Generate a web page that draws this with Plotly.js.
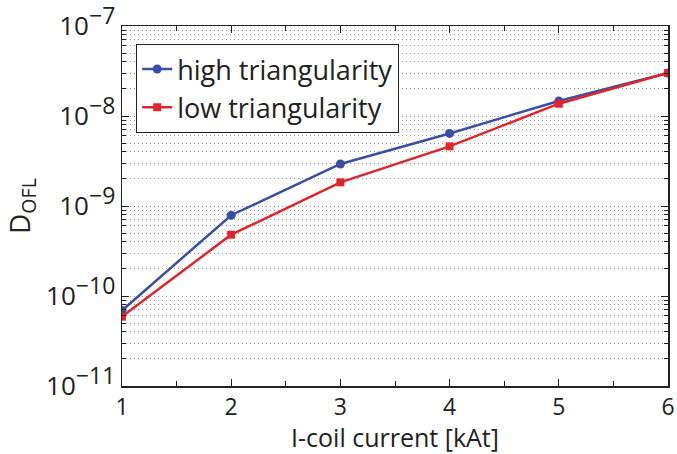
<!DOCTYPE html>
<html>
<head>
<meta charset="utf-8">
<script src="https://cdn.plot.ly/plotly-3.0.1.min.js"></script>
<style>html,body{margin:0;padding:0;background:#fff;}#chart{width:677px;height:454px;}</style>
</head>
<body>
<div id="chart"></div>
<script>
const current = [1, 2, 3, 4, 5, 6];
const highTri = [6.9e-11, 7.9e-10, 2.93e-9, 6.4e-9, 1.47e-8, 3.0e-8];
const lowTri  = [5.9e-11, 4.8e-10, 1.83e-9, 4.6e-9, 1.37e-8, 3.0e-8];
const yTickVals = [1e-11, 1e-10, 1e-9, 1e-8, 1e-7];
const yExponents = ['\u221211', '\u221210', '\u22129', '\u22128', '\u22127'];
const xTickVals = [1, 2, 3, 4, 5, 6];

const yTickText = yExponents.map(e => '10<sup><span style="font-size:23px">' + e + '</span></sup>');
const yMinorVals = [];
for (let d = -11; d < -7; d++) for (let m = 2; m <= 9; m++) yMinorVals.push(m * Math.pow(10, d));

const font = 'Open Sans, Lato, sans-serif';
const traces = [
  {x: current, y: highTri, name: 'high triangularity', mode: 'lines+markers',
   line: {color: '#3a4fa3', width: 2.5}, marker: {symbol: 'circle', size: 9, color: '#3a4fa3'}},
  {x: current, y: lowTri, name: 'low triangularity', mode: 'lines+markers',
   line: {color: '#e0262b', width: 2.5}, marker: {symbol: 'square', size: 8, color: '#e0262b'}}
];
const layout = {
  width: 677, height: 454,
  margin: {l: 122, r: 9, t: 26, b: 68},
  paper_bgcolor: '#fff', plot_bgcolor: '#fff',
  font: {family: font, color: '#222', size: 24},
  showlegend: true,
  legend: {x: 0.026, y: 0.95, xanchor: 'left', yanchor: 'top', bgcolor: '#fff',
           bordercolor: '#222', borderwidth: 1, font: {size: 27, family: font},
           tracegroupgap: 0},
  xaxis: {
    range: [1, 6], tickvals: xTickVals, ticks: 'inside', ticklen: 7, tickwidth: 1,
    tickcolor: '#222', showline: true, linecolor: '#222', linewidth: 1.5, mirror: 'ticks',
    showgrid: false, zeroline: false, tickfont: {size: 23},
    minor: {dtick: 0.5, ticks: 'inside', ticklen: 5, tickcolor: '#222', showgrid: false},
    title: {text: 'I-coil current [kAt]', font: {size: 25}, standoff: 15}
  },
  yaxis: {
    type: 'log', range: [-11, -7], tickvals: yTickVals, ticktext: yTickText,
    ticklabeloverflow: 'allow',
    ticks: 'inside', ticklen: 7, tickwidth: 1, tickcolor: '#222',
    showline: true, linecolor: '#222', linewidth: 1.5, mirror: 'ticks',
    showgrid: true, gridcolor: '#999', griddash: '1px,3px', gridwidth: 1,
    zeroline: false, tickfont: {size: 26},
    minor: {tickvals: yMinorVals, ticks: 'inside', ticklen: 4, tickcolor: '#222', showgrid: true,
            gridcolor: '#999', griddash: '1px,3px', gridwidth: 1},
    title: {text: 'D<sub>OFL</sub>', font: {size: 28}, standoff: 10}
  }
};
Plotly.newPlot('chart', traces, layout, {displayModeBar: false, staticPlot: true});
</script>
</body>
</html>
